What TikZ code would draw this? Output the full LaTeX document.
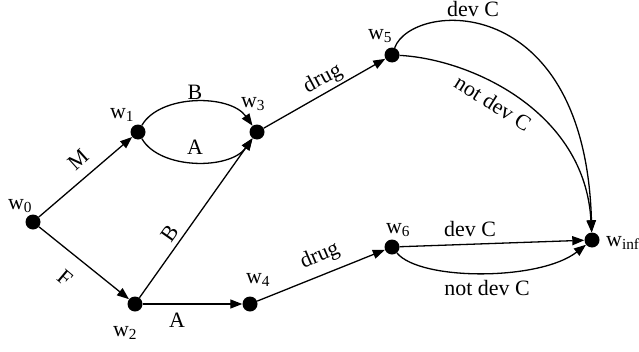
\documentclass[tikz,border=0pt]{standalone}
\usepackage{fontspec}
\setmainfont{Liberation Serif}
\usetikzlibrary{arrows.meta}
\begin{document}
\begin{tikzpicture}[x=1bp,y=1bp,
  dot/.style={circle,fill=black,inner sep=0pt,minimum size=15bp},
  lbl/.style={font=\fontsize{22}{26}\selectfont,inner sep=0pt},
  edge/.style={line width=1.3bp,-{Triangle[length=12bp,width=9bp]}}]
\useasboundingbox (0,0) rectangle (639,351);
% states
\node[dot] (w0) at (33,129) {};
\node[dot] (w1) at (138,219) {};
\node[dot] (w3) at (257,219) {};
\node[dot] (w2) at (135,47) {};
\node[dot] (w4) at (250,47) {};
\node[dot] (w5) at (392,296) {};
\node[dot] (w6) at (392,104) {};
\node[dot] (wi) at (592,111) {};
% state labels
\node[lbl] (l0) at (20,145) {w\textsubscript{0}};
\node[lbl] (l1) at (122,236) {w\textsubscript{1}};
\node[lbl] (l3) at (253,247) {w\textsubscript{3}};
\node[lbl] (l2) at (125,18) {w\textsubscript{2}};
\node[lbl] (l4) at (258,71) {w\textsubscript{4}};
\node[lbl] (l5) at (380,315) {w\textsubscript{5}};
\node[lbl] (l6) at (398,121) {w\textsubscript{6}};
\node[lbl,anchor=west] (li) at (606,108) {w\textsubscript{inf}};
% edges
\draw[edge] (w0) -- (w1);
\draw[edge] (w0) -- (w2);
\draw[edge] (w2) -- (w3);
\draw[edge] (w2) -- (w4);
\draw[edge] (w3) -- (w5);
\draw[edge] (w4) -- (w6);
\draw[edge] (w1) .. controls (160,257) and (230,257) .. (w3);
\draw[edge] (w1) .. controls (160,181) and (230,181) .. (w3);
\draw[edge] (w5) .. controls (412,350) and (585,362) .. (wi);
\draw[edge] (w5) .. controls (470,292) and (585,240) .. (wi);
\draw[edge] (w6) -- (wi);
\draw[edge] (w6) .. controls (420,70) and (540,70) .. (wi);
% edge labels
\node[lbl,rotate=42] (tM) at (78,191) {M};
\node[lbl,rotate=-40] (tF) at (65,73) {F};
\node[lbl,rotate=55] (tB2) at (170,118) {B};
\node[lbl] (tA2) at (177,31) {A};
\node[lbl] (tB1) at (195,259) {B};
\node[lbl] (tA1) at (195,204) {A};
\node[lbl,rotate=28] (td1) at (323,272) {drug};
\node[lbl,rotate=23] (td2) at (320,95) {drug};
\node[lbl] (tc1) at (473,342) {dev C};
\node[lbl,rotate=-32] (tn1) at (493,248) {not dev C};
\node[lbl] (tc2) at (470,122) {dev C};
\node[lbl] (tn2) at (487,63) {not dev C};
\end{tikzpicture}
\end{document}
